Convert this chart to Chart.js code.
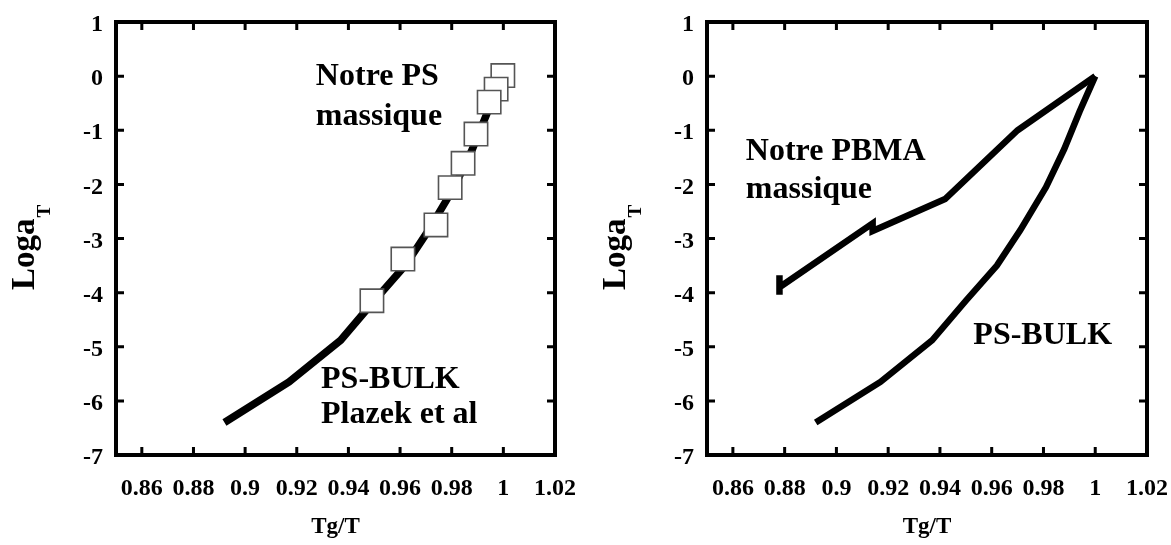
<!DOCTYPE html>
<html><head><meta charset="utf-8">
<script src="https://cdn.jsdelivr.net/npm/chart.js@4.4.1/dist/chart.umd.min.js"></script>
<style>
html,body{margin:0;padding:0;background:#fff;width:1171px;height:545px;overflow:hidden}
.box{position:absolute;top:0;height:545px}
#b1{left:0;width:585px}
#b2{left:591px;width:580px}
</style></head><body>
<div class="box" id="b1"><canvas id="c1"></canvas></div>
<div class="box" id="b2"><canvas id="c2"></canvas></div>
<script>
// ---- data ----
const xTickValues = [0.86, 0.88, 0.9, 0.92, 0.94, 0.96, 0.98, 1, 1.02];
const xTickLabels = ['0.86', '0.88', '0.9', '0.92', '0.94', '0.96', '0.98', '1', '1.02'];
const yTickValues = [-7, -6, -5, -4, -3, -2, -1, 0, 1];
const yTickLabels = ['-7', '-6', '-5', '-4', '-3', '-2', '-1', '0', '1'];

// PS-BULK (Plazek et al) curve
const psBulkX = [0.892, 0.917, 0.937, 0.950, 0.962, 0.971, 0.981, 0.988, 0.994, 1.000];
const psBulkY = [-6.40, -5.65, -4.88, -4.15, -3.50, -2.85, -2.05, -1.35, -0.65, 0.00];

// Notre PS massique (squares)
const psOurX = [0.9998, 0.9972, 0.9945, 0.9894, 0.9844, 0.9794, 0.9739, 0.9611, 0.9491];
const psOurY = [0.01, -0.24, -0.48, -1.07, -1.61, -2.06, -2.75, -3.38, -4.15];

// Notre PBMA massique
const pbmaX = [0.878, 0.878, 0.878, 0.914, 0.914, 0.942, 0.970, 1.000];
const pbmaY = [-3.68, -4.04, -3.90, -2.72, -2.86, -2.27, -1.00, 0.00];

const xTitle = 'Tg/T';
const yTitleMain = 'Loga';
const yTitleSub = 'T';

const FONT = "'Liberation Serif', 'Times New Roman', serif";

function pts(xs, ys) { return xs.map((x, i) => ({ x: x, y: ys[i] })); }
function labelFor(vals, labs, v) {
  for (let i = 0; i < vals.length; i++) if (Math.abs(vals[i] - v) < 1e-9) return labs[i];
  return '';
}

const framePlugin = {
  id: 'frame',
  afterDatasetsDraw(chart, args, opts) {
    const ctx = chart.ctx, a = chart.chartArea;
    const xs = chart.scales.x, ys = chart.scales.y;
    ctx.save();
    ctx.strokeStyle = '#000';
    ctx.lineWidth = 3;
    ctx.beginPath();
    xTickValues.forEach(v => {
      const p = xs.getPixelForValue(v);
      if (p <= a.left + 2 || p >= a.right - 2) return;
      ctx.moveTo(p, a.bottom); ctx.lineTo(p, a.bottom - 8);
      ctx.moveTo(p, a.top); ctx.lineTo(p, a.top + 8);
    });
    yTickValues.forEach(v => {
      const p = ys.getPixelForValue(v);
      if (p <= a.top + 2 || p >= a.bottom - 2) return;
      ctx.moveTo(a.left, p); ctx.lineTo(a.left + 8, p);
      ctx.moveTo(a.right, p); ctx.lineTo(a.right - 8, p);
    });
    ctx.stroke();
    ctx.lineWidth = 4;
    ctx.strokeRect(a.left, a.top, a.right - a.left, a.bottom - a.top);

    ctx.fillStyle = '#000';
    ctx.textAlign = 'left';
    ctx.textBaseline = 'alphabetic';
    ctx.font = 'bold 32px ' + FONT;
    (opts.notes || []).forEach(n => {
      ctx.fillText(n.text, xs.getPixelForValue(n.x), ys.getPixelForValue(n.y));
    });

    ctx.font = 'bold 23px ' + FONT;
    ctx.textAlign = 'center';
    ctx.textBaseline = 'middle';
    ctx.fillText(xTitle, (a.left + a.right) / 2, 527);

    ctx.translate(34, 290);
    ctx.rotate(-Math.PI / 2);
    ctx.textAlign = 'left';
    ctx.textBaseline = 'alphabetic';
    ctx.font = 'bold 33px ' + FONT;
    ctx.fillText(yTitleMain, 0, 0);
    const w = ctx.measureText(yTitleMain).width;
    ctx.font = 'bold 19px ' + FONT;
    ctx.fillText(yTitleSub, w + 1, 16);
    ctx.restore();
  }
};

function makeChart(id, datasets, notes, padRight) {
  const tickFont = { family: FONT, weight: 'bold', size: 24 };
  return new Chart(document.getElementById(id), {
    type: 'scatter',
    data: { datasets: datasets },
    options: {
      responsive: true, maintainAspectRatio: false, animation: false,
      layout: { autoPadding: false, padding: { left: 0, right: padRight, top: 22, bottom: 0 } },
      plugins: { legend: { display: false }, tooltip: { enabled: false }, frame: { notes: notes } },
      scales: {
        x: {
          type: 'linear', min: 0.85, max: 1.02,
          afterBuildTicks: s => { s.ticks = xTickValues.map(v => ({ value: v })); },
          afterFit: s => { s.height = 90; s.paddingLeft = 0; s.paddingRight = 0; s.paddingTop = 0; s.paddingBottom = 0; },
          grid: { display: false }, border: { display: false },
          ticks: { padding: 11, font: tickFont, color: '#000', maxRotation: 0, autoSkip: false,
            callback: v => labelFor(xTickValues, xTickLabels, v) }
        },
        y: {
          type: 'linear', min: -7, max: 1,
          afterBuildTicks: s => { s.ticks = yTickValues.map(v => ({ value: v })); },
          afterFit: s => { s.width = 116; s.paddingLeft = 0; s.paddingRight = 0; s.paddingTop = 0; s.paddingBottom = 0; },
          grid: { display: false }, border: { display: false },
          ticks: { padding: 5, labelOffset: 3, font: tickFont, color: '#000', autoSkip: false,
            callback: v => labelFor(yTickValues, yTickLabels, v) }
        }
      }
    },
    plugins: [framePlugin]
  });
}

const lineStyle = (data, w) => ({
  data: data, showLine: true, borderColor: '#000', borderWidth: w,
  pointRadius: 0, fill: false, tension: 0, borderCapStyle: 'butt', borderJoinStyle: 'miter'
});

makeChart('c1', [
  { data: pts(psOurX, psOurY), showLine: false, pointStyle: 'rect', pointRadius: 16.5,
    backgroundColor: '#fff', borderColor: '#555', borderWidth: 1.6 },
  lineStyle(pts(psBulkX, psBulkY), 7.5)
], [
  { text: 'Notre PS', x: 0.9274, y: -0.165 },
  { text: 'massique', x: 0.9274, y: -0.904 },
  { text: 'PS-BULK', x: 0.9294, y: -5.765 },
  { text: 'Plazek et al', x: 0.9294, y: -6.41 }
], 30);

makeChart('c2', [
  lineStyle(pts(psBulkX, psBulkY), 6.5),
  lineStyle(pts(pbmaX, pbmaY), 6.5)
], [
  { text: 'Notre PBMA', x: 0.865, y: -1.55 },
  { text: 'massique', x: 0.865, y: -2.244 },
  { text: 'PS-BULK', x: 0.9529, y: -4.94 }
], 24);
</script>
</body></html>
